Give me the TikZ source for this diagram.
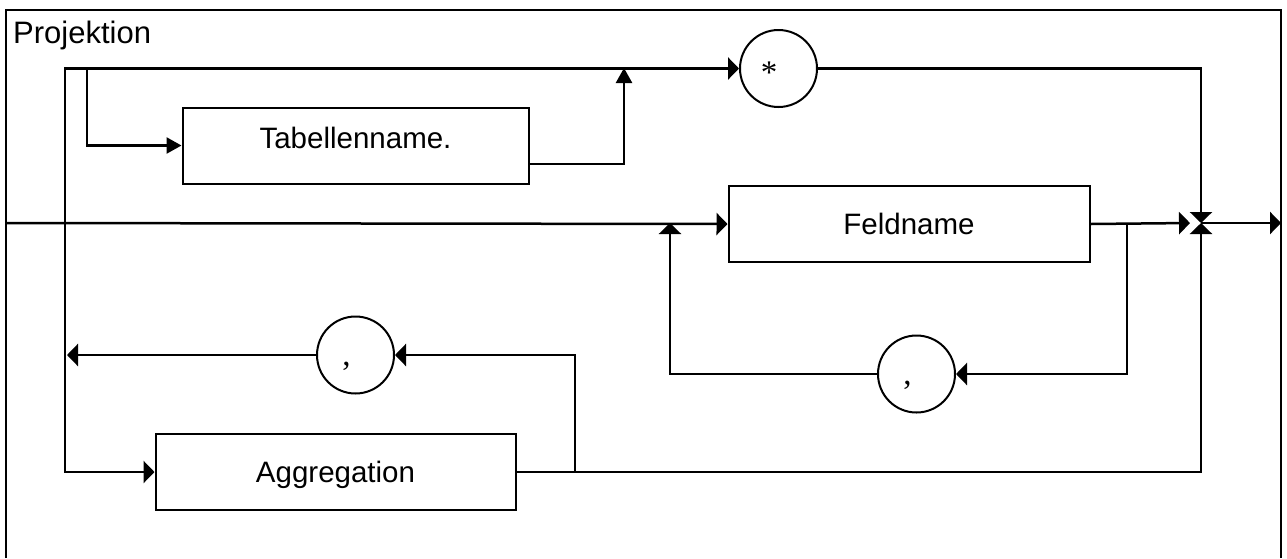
\documentclass[tikz,border=0pt]{standalone}
\usepackage{fontspec}
\setmainfont{Liberation Sans}
\newfontfamily\serifface{Liberation Serif}
\usetikzlibrary{arrows.meta}

\tikzset{
  box/.style={draw, line width=2pt, minimum height=76pt, inner sep=0pt,
    text height=21pt, text depth=0pt, font=\fontsize{29.5}{34}\selectfont},
  term/.style={draw, circle, line width=2pt, minimum size=77pt, inner sep=0pt},
  sym/.style={inner sep=0pt, font=\serifface\fontsize{33}{38}\selectfont},
  conn/.style={line width=2.5pt},
  arr/.style={conn, -{Triangle[length=11pt,width=22pt]}},
  arrt/.style={conn, -{Triangle[length=15pt,width=16pt]}},
}

\begin{document}
\begin{tikzpicture}[x=1pt,y=-1pt]
  \useasboundingbox (0,0) rectangle (1287,558);
  \draw[conn] (6,558) -- (6,10) -- (1281,10) -- (1281,558);
  \node[anchor=base west, inner sep=0pt, font=\fontsize{31}{36}\selectfont] (title) at (13,43) {Projektion};

  \node[box, minimum width=346pt, text depth=16pt] (tab) at (355.5,145.5) {Tabellenname.};
  \node[box, minimum width=361pt] (feld) at (909,224) {Feldname};
  \node[box, minimum width=360pt] (agg) at (335.5,472) {Aggregation};
  \node[term, label={[sym, xshift=-9.5pt, yshift=-4pt]center:*}] (star) at (778.5,68.5) {};
  \node[term, label={[sym, xshift=-9pt, yshift=-11pt]center:{,}}] (c1) at (916.5,374) {};
  \node[term, label={[sym, xshift=-9pt, yshift=-11pt]center:{,}}] (c2) at (355.5,355) {};

  \coordinate (in) at (6,223);
  \coordinate (lt) at (65,68);
  \coordinate (lb) at (65,472);
  \coordinate (tt) at (87,68);
  \coordinate (te) at (529,164);
  \coordinate (tu) at (624,68);
  \coordinate (j) at (1201,223);
  \coordinate (jl) at (1190,223);
  \coordinate (out) at (1281,223);
  \coordinate (fr) at (1127,223);
  \coordinate (fl) at (670,223);
  \coordinate (ar) at (575,472);
  \coordinate (al) at (67,355);

  \draw[arr] (in) -- (feld.west);
  \draw[arr] (lb) |- (star.west);
  \draw[arr] (lt) |- (agg.west);
  \draw[arrt] (tt) |- (tab.west);
  \draw[arrt] (te) -| (tu);
  \draw[arr] (star.east) -| (j);
  \draw[arr] (feld.east) -- (jl);
  \draw[arr] (j) -- (out);
  \draw[arr] (agg.east) -| (j);
  \draw[arr] (fr) |- (c1.east);
  \draw[arr] (c1.west) -| (fl);
  \draw[arr] (ar) |- (c2.east);
  \draw[arr] (c2.west) -- (al);
\end{tikzpicture}
\end{document}
